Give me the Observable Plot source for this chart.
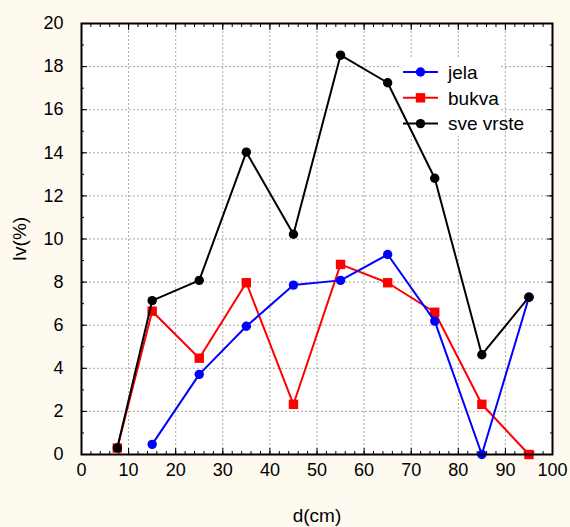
<!DOCTYPE html>
<html>
<head>
<meta charset="utf-8">
<script src="https://cdn.jsdelivr.net/npm/d3@7"></script>
<script src="https://cdn.jsdelivr.net/npm/@observablehq/plot@0.6"></script>
<style>
  html, body { margin: 0; padding: 0; background: #fefaef; }
  #chart { position: relative; width: 570px; height: 527px; }
  #legend { position: absolute; left: 0; top: 0; pointer-events: none; }
</style>
</head>
<body>
<div id="chart"></div>
<script>
// ---- data ----
const seriesNames = ["jela", "bukva", "sve vrste"];
const seriesColors = ["#0000ff", "#ff0000", "#000000"];
const seriesSymbols = ["circle", "square", "circle"];

const xJela = [15, 25, 35, 45, 55, 65, 75, 85, 95];
const yJela = [0.47, 3.72, 5.95, 7.86, 8.08, 9.28, 6.19, 0, 7.3];

const xBukva = [7.6, 15, 25, 35, 45, 55, 65, 75, 85, 95];
const yBukva = [0.3, 6.65, 4.47, 7.97, 2.33, 8.82, 7.97, 6.6, 2.33, 0];

const xSve = [7.6, 15, 25, 35, 45, 55, 65, 75, 85, 95];
const ySve = [0.3, 7.14, 8.08, 14.03, 10.22, 18.53, 17.25, 12.82, 4.63, 7.3];

const xTicks = [0, 10, 20, 30, 40, 50, 60, 70, 80, 90, 100];
const xMinor = d3.range(0, 101, 2);
const yTicks = [0, 2, 4, 6, 8, 10, 12, 14, 16, 18, 20];
const yMinor = d3.range(0, 21, 1);

const xLabel = "d(cm)";
const yLabel = "Iv(%)";

// ---- build table ----
const rows = [];
const addSeries = (name, xs, ys) => xs.forEach((x, i) => rows.push({series: name, x, y: ys[i]}));
addSeries("bukva", xBukva, yBukva);
addSeries("jela", xJela, yJela);
addSeries("sve vrste", xSve, ySve);

const font = "'Liberation Sans', Arial, sans-serif";
const gridStyle = {stroke: "#a8a8a8", strokeOpacity: 1, strokeDasharray: "2,2", strokeWidth: 1};

const drawOrder = ["bukva", "jela", "sve vrste"];
const seriesMarks = drawOrder.flatMap(name => {
  const i = seriesNames.indexOf(name);
  const d = rows.filter(r => r.series === name);
  return [
    Plot.line(d, {x: "x", y: "y", stroke: seriesColors[i], strokeWidth: 2}),
    Plot.dot(d, {x: "x", y: "y", fill: seriesColors[i], stroke: "none",
      symbol: () => seriesSymbols[i], r: seriesSymbols[i] === "square" ? 5.3 : 4.7})
  ];
});

const plot = Plot.plot({
  width: 570,
  height: 527,
  marginLeft: 81,
  marginRight: 18,
  marginTop: 23,
  marginBottom: 73,
  style: {background: "#fefaef", fontFamily: font, fontSize: "18px", color: "black"},
  x: {domain: [0, 100]},
  y: {domain: [0, 20]},
  marks: [
    Plot.frame({fill: "white", stroke: "none"}),
    Plot.gridX(xTicks.slice(1, -1), gridStyle),
    Plot.gridY(yTicks.slice(1, -1), gridStyle),
    // minor ticks, all four sides, inward
    Plot.axisX(xMinor, {anchor: "bottom", tickSize: -3, text: null, label: null, strokeWidth: 1}),
    Plot.axisX(xMinor, {anchor: "top", tickSize: -3, text: null, label: null, strokeWidth: 1}),
    Plot.axisY(yMinor, {anchor: "left", tickSize: -3, text: null, label: null, strokeWidth: 1}),
    Plot.axisY(yMinor, {anchor: "right", tickSize: -3, text: null, label: null, strokeWidth: 1}),
    // major ticks inward
    Plot.axisX(xTicks, {anchor: "bottom", tickSize: -6, text: null, label: null, strokeWidth: 1}),
    Plot.axisX(xTicks, {anchor: "top", tickSize: -6, text: null, label: null, strokeWidth: 1}),
    Plot.axisY(yTicks, {anchor: "left", tickSize: -6, text: null, label: null, strokeWidth: 1}),
    Plot.axisY(yTicks, {anchor: "right", tickSize: -6, text: null, label: null, strokeWidth: 1}),
    // tick labels
    Plot.axisX(xTicks, {anchor: "bottom", tickSize: 0, tickPadding: 9, tickFormat: d => String(d),
      label: null, fontSize: 18}),
    Plot.axisY(yTicks, {anchor: "left", tickSize: 0, tickPadding: 18, tickFormat: d => String(d),
      label: null, fontSize: 18}),
    // axis titles
    Plot.axisX(xTicks, {anchor: "bottom", tickSize: 0, text: null,
      label: xLabel, labelAnchor: "center", labelArrow: "none", labelOffset: 67, fontSize: 19}),
    Plot.axisY(yTicks, {anchor: "left", tickSize: 0, text: null,
      label: yLabel, labelAnchor: "center", labelArrow: "none", labelOffset: 69, fontSize: 19}),
    ...seriesMarks,
    Plot.frame({stroke: "black", strokeWidth: 2})
  ]
});

const chart = document.getElementById("chart");
chart.appendChild(plot);

// legend background sits above the grid but beneath the data lines
const firstLine = plot.querySelector('g[aria-label="line"]');
if (firstLine) {
  const bg = document.createElementNS("http://www.w3.org/2000/svg", "rect");
  bg.setAttribute("x", 401); bg.setAttribute("y", 58);
  bg.setAttribute("width", 98); bg.setAttribute("height", 78);
  bg.setAttribute("fill", "white");
  firstLine.parentNode.insertBefore(bg, firstLine);
}

// ---- legend keys and names (top right, inside the plot area) ----
const lg = d3.select(chart).append("svg").attr("id", "legend")
  .attr("width", 570).attr("height", 527)
  .attr("font-family", font).attr("font-size", 19).attr("text-anchor", "start");
seriesNames.forEach((name, i) => {
  const cy = 72 + i * 25.8;
  lg.append("line").attr("x1", 403).attr("x2", 438).attr("y1", cy).attr("y2", cy)
    .attr("stroke", seriesColors[i]).attr("stroke-width", 2);
  if (seriesSymbols[i] === "square") {
    lg.append("rect").attr("x", 420.5 - 4.7).attr("y", cy - 4.7).attr("width", 9.4).attr("height", 9.4).attr("fill", seriesColors[i]);
  } else {
    lg.append("circle").attr("cx", 420.5).attr("cy", cy).attr("r", 4.7).attr("fill", seriesColors[i]);
  }
  lg.append("text").attr("x", 448).attr("y", cy).attr("dy", "0.36em").attr("fill", "black").text(name);
});
</script>
</body>
</html>
